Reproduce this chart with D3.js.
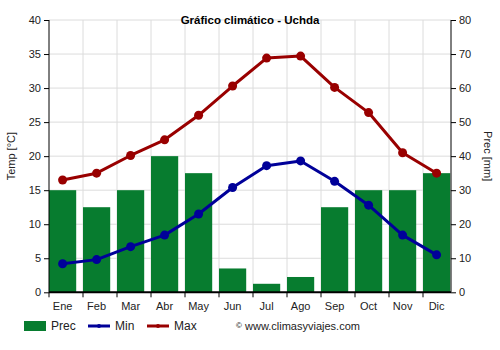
<!DOCTYPE html>
<html><head><meta charset="utf-8">
<script src="https://cdn.jsdelivr.net/npm/d3@7"></script>
<style>body{margin:0;background:#fff}text{font-family:"Liberation Sans",Arial,sans-serif}</style>
</head><body><svg id="c" width="500" height="350"></svg>
<script>
const months = ["Ene","Feb","Mar","Abr","May","Jun","Jul","Ago","Sep","Oct","Nov","Dic"];
const prec = [30,25,30,40,35,7,2.5,4.5,25,30,30,35];
const tmin = [4.2,4.8,6.7,8.4,11.5,15.4,18.6,19.3,16.3,12.8,8.4,5.5];
const tmax = [16.5,17.5,20.1,22.4,26,30.3,34.4,34.7,30.1,26.4,20.5,17.5];
const tempTicks = [0,5,10,15,20,25,30,35,40];
const precTicks = [0,10,20,30,40,50,60,70,80];

const svg = d3.select("#c");
const L=49, R=451, T=20, B=292.3;
const x = d3.scaleBand().domain(months).range([L, L+12*34]);
const bw = x.bandwidth();
const cx = m => x(m) + bw*0.4;
const yT = d3.scaleLinear().domain([0,40]).range([B,T]);
const yP = d3.scaleLinear().domain([0,80]).range([B,T]);

// grid
const g = svg.append("g");
g.selectAll("line.h").data(tempTicks).enter().append("line")
 .attr("x1",L).attr("x2",R).attr("y1",d=>yT(d)).attr("y2",d=>yT(d))
 .attr("stroke","#dcdcdc").attr("stroke-width",1);
g.selectAll("line.v").data(months.slice(1)).enter().append("line")
 .attr("x1",d=>x(d)).attr("x2",d=>x(d)).attr("y1",T).attr("y2",B)
 .attr("stroke","#dcdcdc").attr("stroke-width",1);

// bars
svg.append("g").selectAll("rect").data(months).enter().append("rect")
 .attr("x",d=>x(d)).attr("width",Math.min(bw*0.8, R-0)).attr("y",(d,i)=>yP(prec[i]))
 .attr("width",(d)=>Math.min(bw*0.8, R-x(d)))
 .attr("height",(d,i)=>B-yP(prec[i])).attr("fill","#077c2f");

// lines
function series(vals,color){
  const line=d3.line().x((d,i)=>cx(months[i])).y(d=>yT(d));
  svg.append("path").datum(vals).attr("d",line).attr("fill","none")
   .attr("stroke",color).attr("stroke-width",3).attr("stroke-linejoin","round");
  svg.append("g").selectAll("circle").data(vals).enter().append("circle")
   .attr("cx",(d,i)=>cx(months[i])).attr("cy",d=>yT(d)).attr("r",4.5).attr("fill",color);
}
series(tmin,"#000099");
series(tmax,"#990000");

// axes
const ax = svg.append("g").attr("font-size",11);
const la = ax.append("g").attr("transform",`translate(${L},0)`)
 .call(d3.axisLeft(yT).tickValues(tempTicks).tickSize(5).tickPadding(3));
const ra = ax.append("g").attr("transform",`translate(${R},0)`)
 .call(d3.axisRight(yP).tickValues(precTicks).tickSize(5).tickPadding(3));
const ba = ax.append("g").attr("transform",`translate(0,${B})`)
 .call(d3.axisBottom(x).tickSize(0).tickPadding(10).tickFormat(d=>d));
ba.selectAll(".tick").attr("transform",d=>`translate(${cx(d)},0)`);
ba.select(".domain").remove();
[la,ra,ba].forEach(a=>{a.selectAll("text").attr("fill","#222").attr("font-family","Liberation Sans, Arial, sans-serif").attr("font-size",11);a.selectAll(".tick line").attr("stroke","#000");a.select(".domain").attr("stroke","#000");});
la.select(".domain").attr("d",`M-0,${T}V${B}`);
ra.select(".domain").attr("d",`M0,${T}V${B}`);
// bottom axis line and ticks
svg.append("line").attr("x1",L).attr("x2",R).attr("y1",B).attr("y2",B).attr("stroke","#000").attr("stroke-width",2);
svg.append("g").selectAll("line").data(months).enter().append("line")
 .attr("x1",d=>x(d)).attr("x2",d=>x(d)).attr("y1",B).attr("y2",B+5).attr("stroke","#000");

// title & labels
svg.append("text").attr("x",250).attr("y",24).attr("text-anchor","middle")
 .attr("font-size",11.5).attr("font-weight","bold").text("Gráfico climático - Uchda");
svg.append("text").attr("transform",`translate(15,${(T+B)/2}) rotate(-90)`).attr("text-anchor","middle")
 .attr("font-size",11).attr("fill","#222").text("Temp [°C]");
svg.append("text").attr("transform",`translate(484,${(T+B)/2}) rotate(90)`).attr("text-anchor","middle")
 .attr("font-size",11).attr("fill","#222").text("Prec [mm]");

// legend
const lg = svg.append("g").attr("font-size",12);
lg.append("rect").attr("x",24).attr("y",321).attr("width",22).attr("height",10).attr("fill","#077c2f");
lg.append("text").attr("x",51).attr("y",330).text("Prec").attr("fill","#222");
lg.append("line").attr("x1",88).attr("x2",110).attr("y1",326).attr("y2",326).attr("stroke","#000099").attr("stroke-width",3);
lg.append("circle").attr("cx",99).attr("cy",326).attr("r",2).attr("fill","#000099");
lg.append("text").attr("x",115).attr("y",330).text("Min").attr("fill","#222");
lg.append("line").attr("x1",147).attr("x2",169).attr("y1",326).attr("y2",326).attr("stroke","#990000").attr("stroke-width",3);
lg.append("circle").attr("cx",158).attr("cy",326).attr("r",2).attr("fill","#990000");
lg.append("text").attr("x",174).attr("y",330).text("Max").attr("fill","#222");
lg.append("text").attr("x",236).attr("y",328).attr("font-size",8).text("©");
lg.append("text").attr("x",245).attr("y",330).attr("font-size",11).attr("fill","#222").text("www.climasyviajes.com");
</script></body></html>
